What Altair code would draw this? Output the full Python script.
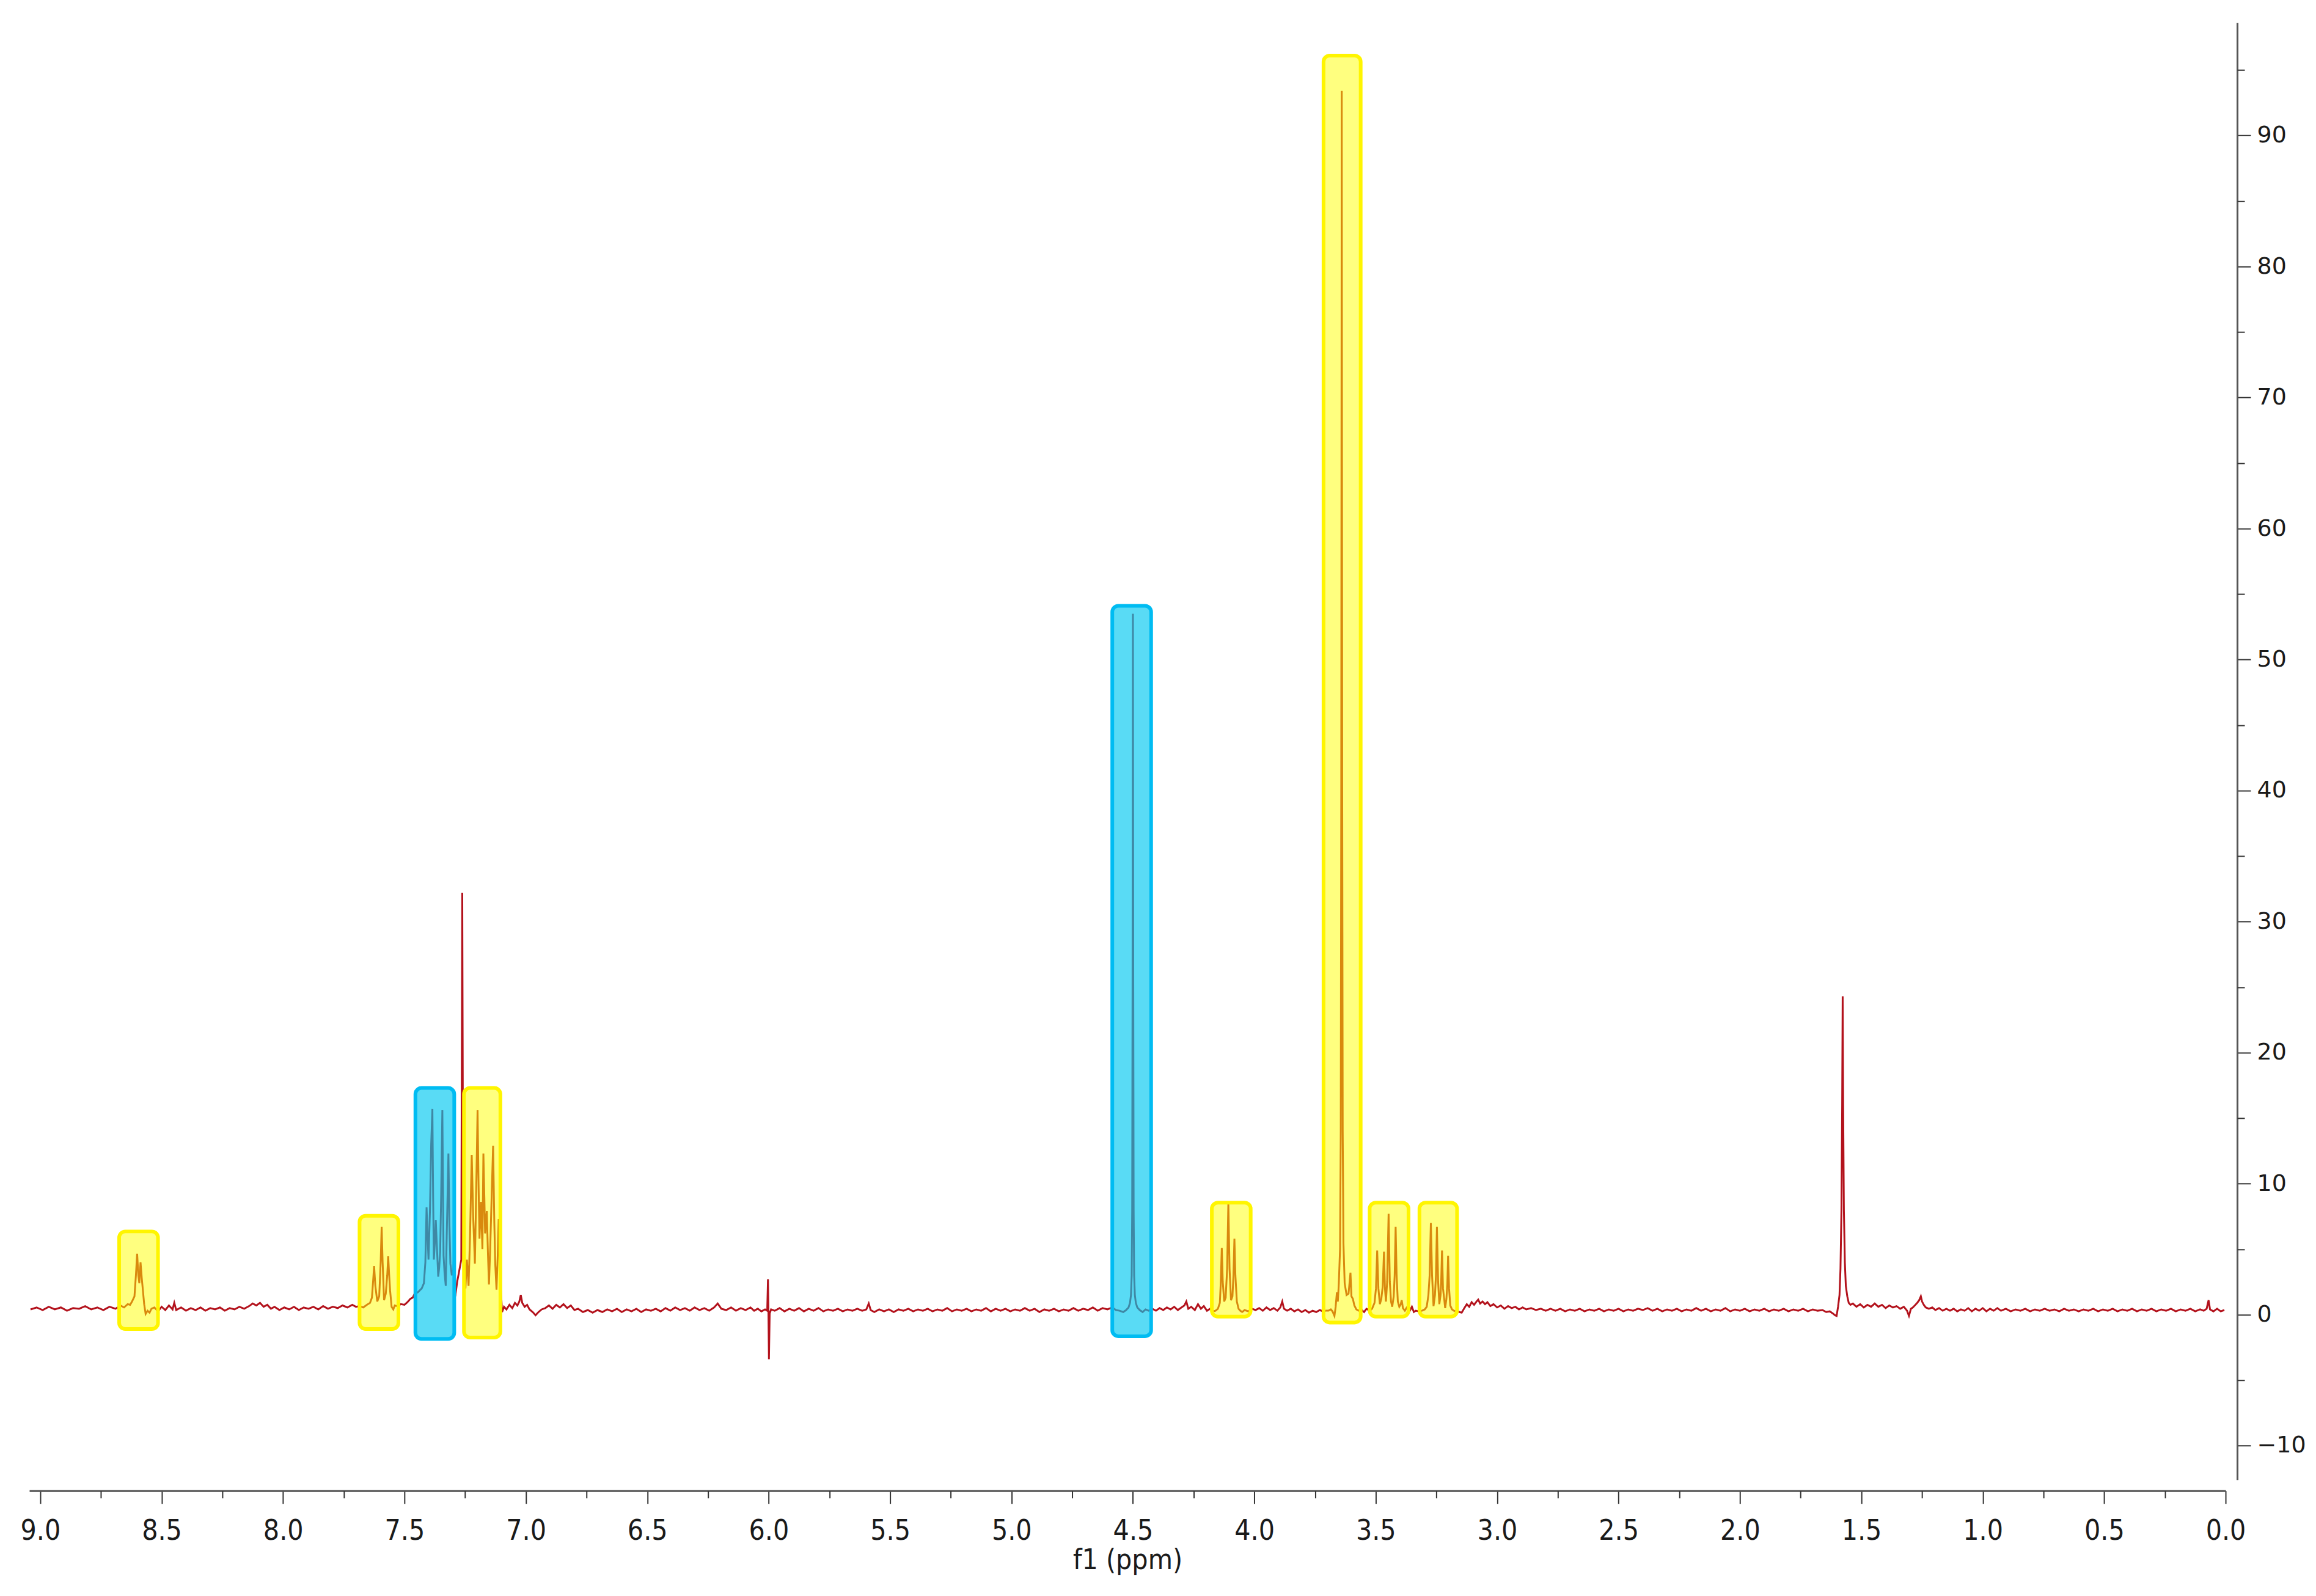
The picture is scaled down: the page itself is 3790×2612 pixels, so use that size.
import altair as alt
import pandas as pd

# ---------------- spectrum (ppm, intensity) ----------------
seg_a = [(9.040, 0.40), (9.015, 0.55), (8.990, 0.35), (8.965, 0.60), (8.940, 0.40), (8.915, 0.55),
         (8.890, 0.30), (8.865, 0.50), (8.840, 0.45), (8.815, 0.65), (8.790, 0.40), (8.765, 0.55),
         (8.740, 0.35), (8.715, 0.60), (8.690, 0.45), (8.670, 0.70)]
seg_b = [(8.655, 0.55), (8.640, 0.80), (8.630, 0.75), (8.622, 1.00), (8.612, 1.40), (8.606, 3.00),
         (8.601, 4.65), (8.596, 3.00), (8.592, 2.40), (8.587, 4.00), (8.582, 2.80), (8.577, 1.80),
         (8.572, 0.80), (8.566, 0.05), (8.558, 0.30), (8.550, 0.15), (8.542, 0.45)]
seg_c = [(8.530, 0.55), (8.515, 0.25), (8.500, 0.60), (8.485, 0.35), (8.470, 0.70), (8.455, 0.40),
         (8.448, 0.90), (8.440, 0.35), (8.420, 0.55), (8.400, 0.30), (8.380, 0.50), (8.360, 0.35),
         (8.340, 0.55), (8.320, 0.30), (8.300, 0.50), (8.280, 0.40), (8.260, 0.55), (8.240, 0.30),
         (8.220, 0.50), (8.200, 0.40), (8.180, 0.60), (8.160, 0.45), (8.140, 0.65), (8.125, 0.85),
         (8.110, 0.70), (8.095, 0.90), (8.080, 0.60), (8.065, 0.75), (8.050, 0.45), (8.035, 0.60),
         (8.015, 0.35), (7.995, 0.55), (7.975, 0.40), (7.955, 0.60), (7.935, 0.35), (7.915, 0.55),
         (7.895, 0.45), (7.875, 0.60), (7.855, 0.40), (7.835, 0.65), (7.815, 0.45), (7.795, 0.60),
         (7.775, 0.50), (7.755, 0.70), (7.735, 0.55), (7.715, 0.75), (7.700, 0.60)]
seg_d = [(7.685, 0.65), (7.670, 0.55), (7.655, 0.75), (7.642, 0.90), (7.634, 1.30), (7.629, 2.60),
         (7.625, 3.70), (7.620, 2.20), (7.612, 1.00), (7.604, 1.40), (7.598, 4.00), (7.594, 6.70),
         (7.590, 4.00), (7.584, 1.10), (7.577, 1.60), (7.571, 3.00), (7.567, 4.45), (7.563, 3.00),
         (7.559, 1.80), (7.553, 0.60), (7.546, 0.40), (7.540, 0.70)]
seg_e = [(7.530, 0.65), (7.515, 0.80), (7.500, 0.75), (7.488, 0.95), (7.476, 1.20), (7.466, 1.30),
         (7.458, 1.60), (7.445, 1.70), (7.429, 2.00), (7.420, 2.40), (7.414, 4.00), (7.409, 8.20),
         (7.405, 6.00), (7.401, 4.20), (7.395, 8.00), (7.390, 13.00), (7.385, 15.70), (7.382, 9.00),
         (7.379, 4.20), (7.375, 5.50), (7.371, 7.20), (7.366, 5.00), (7.361, 2.90), (7.357, 3.60),
         (7.353, 4.80), (7.349, 9.00), (7.344, 15.60), (7.341, 9.00), (7.339, 4.50), (7.335, 3.20),
         (7.330, 2.20), (7.326, 6.00), (7.322, 9.50), (7.319, 12.30), (7.315, 7.00), (7.311, 3.90),
         (7.305, 3.00), (7.299, 3.40), (7.294, 5.50), (7.291, 1.40), (7.283, 2.50), (7.273, 3.50),
         (7.266, 4.20), (7.262, 32.20), (7.258, 4.20), (7.253, 3.00), (7.249, 2.00), (7.243, 4.20),
         (7.236, 2.20), (7.230, 6.00), (7.223, 12.20), (7.217, 7.50), (7.210, 3.90), (7.205, 9.00),
         (7.199, 15.60), (7.195, 10.00), (7.191, 5.80), (7.185, 8.60), (7.179, 5.00), (7.175, 12.30),
         (7.171, 9.00), (7.168, 6.20), (7.161, 7.90), (7.156, 4.50), (7.152, 2.30), (7.147, 5.00),
         (7.141, 9.00), (7.135, 12.90), (7.130, 7.00), (7.126, 3.80), (7.121, 1.90), (7.116, 4.50),
         (7.112, 7.30), (7.106, 2.90), (7.098, 0.20), (7.090, 0.60)]
seg_f = [(7.080, 0.40), (7.068, 0.75), (7.056, 0.50), (7.045, 0.90), (7.035, 0.70), (7.027, 1.00),
         (7.021, 1.50), (7.015, 0.90), (7.005, 0.60), (6.995, 0.75), (6.985, 0.40), (6.972, 0.20),
         (6.960, -0.05), (6.948, 0.20), (6.935, 0.40), (6.920, 0.50), (6.905, 0.70), (6.890, 0.45),
         (6.875, 0.75), (6.860, 0.55), (6.845, 0.80), (6.830, 0.50), (6.815, 0.70), (6.800, 0.35),
         (6.785, 0.45), (6.765, 0.20), (6.745, 0.35), (6.725, 0.15), (6.705, 0.35), (6.685, 0.20),
         (6.665, 0.40), (6.645, 0.25), (6.625, 0.45), (6.605, 0.20), (6.585, 0.40), (6.565, 0.25),
         (6.545, 0.45), (6.525, 0.20), (6.505, 0.40), (6.485, 0.30), (6.465, 0.45), (6.445, 0.25),
         (6.425, 0.50), (6.405, 0.30), (6.385, 0.55), (6.365, 0.35), (6.345, 0.50), (6.325, 0.30),
         (6.305, 0.55), (6.285, 0.35), (6.265, 0.50), (6.245, 0.30), (6.225, 0.55), (6.210, 0.85),
         (6.195, 0.45), (6.175, 0.35), (6.155, 0.55), (6.135, 0.30), (6.115, 0.50), (6.095, 0.35),
         (6.075, 0.55), (6.060, 0.30), (6.045, 0.45), (6.030, 0.25)]
seg_g = [(6.015, 0.40), (6.006, 0.30), (6.003, 2.70), (6.001, 0.20), (5.999, -3.40), (5.996, 0.10),
         (5.990, 0.40)]
seg_h = [(5.975, 0.30), (5.955, 0.50), (5.935, 0.25), (5.915, 0.45), (5.895, 0.30), (5.875, 0.50),
         (5.855, 0.25), (5.835, 0.45), (5.815, 0.30), (5.795, 0.50), (5.775, 0.25), (5.755, 0.40),
         (5.735, 0.30), (5.715, 0.45), (5.695, 0.25), (5.675, 0.40), (5.655, 0.30), (5.635, 0.45),
         (5.615, 0.30), (5.598, 0.40), (5.588, 0.85), (5.580, 0.35), (5.565, 0.20), (5.545, 0.40),
         (5.525, 0.25), (5.505, 0.40), (5.485, 0.20), (5.465, 0.40), (5.445, 0.30), (5.425, 0.45),
         (5.405, 0.25), (5.385, 0.40), (5.365, 0.30), (5.345, 0.45), (5.325, 0.25), (5.305, 0.40),
         (5.285, 0.30), (5.265, 0.50), (5.245, 0.25), (5.225, 0.40), (5.205, 0.30), (5.185, 0.45),
         (5.165, 0.25), (5.145, 0.40), (5.125, 0.30), (5.105, 0.50), (5.085, 0.25), (5.065, 0.45),
         (5.045, 0.30), (5.025, 0.45), (5.005, 0.25), (4.985, 0.40), (4.965, 0.30), (4.945, 0.50),
         (4.925, 0.30), (4.905, 0.45), (4.885, 0.20), (4.865, 0.40), (4.845, 0.30), (4.825, 0.45),
         (4.805, 0.25), (4.785, 0.40), (4.765, 0.30), (4.745, 0.50), (4.725, 0.30), (4.705, 0.45),
         (4.685, 0.35), (4.665, 0.55), (4.645, 0.30), (4.625, 0.50), (4.605, 0.40), (4.585, 0.55),
         (4.570, 0.35)]
seg_i = [(4.555, 0.30), (4.540, 0.20), (4.528, 0.35), (4.518, 0.55), (4.512, 0.90), (4.508, 1.50),
         (4.505, 3.00), (4.503, 8.00), (4.5015, 25.0), (4.500, 53.50), (4.4985, 25.0), (4.497, 8.00),
         (4.495, 3.00), (4.492, 1.50), (4.488, 0.90), (4.482, 0.55), (4.472, 0.35), (4.460, 0.20),
         (4.448, 0.40)]
seg_j = [(4.435, 0.30), (4.420, 0.45), (4.405, 0.30), (4.390, 0.50), (4.375, 0.35), (4.360, 0.55),
         (4.345, 0.40), (4.330, 0.60), (4.315, 0.35), (4.300, 0.55), (4.288, 0.70), (4.280, 1.00),
         (4.272, 0.45), (4.260, 0.60), (4.245, 0.35), (4.232, 0.80), (4.220, 0.45), (4.208, 0.65),
         (4.195, 0.30), (4.182, 0.45)]
seg_k = [(4.170, 0.25), (4.160, 0.30), (4.150, 0.45), (4.142, 0.90), (4.138, 2.50), (4.134, 5.10),
         (4.130, 2.50), (4.124, 1.00), (4.118, 1.30), (4.112, 3.50), (4.107, 8.50), (4.102, 3.50),
         (4.096, 1.10), (4.090, 1.40), (4.086, 3.00), (4.082, 5.80), (4.078, 3.00), (4.072, 1.00),
         (4.065, 0.45), (4.058, 0.30), (4.050, 0.20)]
seg_l = [(4.040, 0.35), (4.025, 0.25), (4.010, 0.45), (3.995, 0.35), (3.980, 0.50), (3.965, 0.30),
         (3.950, 0.55), (3.935, 0.35), (3.920, 0.50), (3.905, 0.30), (3.893, 0.55), (3.885, 1.00),
         (3.878, 0.45), (3.865, 0.30), (3.850, 0.45), (3.835, 0.25), (3.820, 0.40), (3.805, 0.20),
         (3.790, 0.35), (3.775, 0.15), (3.760, 0.30), (3.745, 0.20), (3.730, 0.35), (3.718, 0.25),
         (3.705, 0.30)]
seg_m = [(3.695, 0.30), (3.685, 0.40), (3.678, 0.25), (3.670, -0.10), (3.665, 0.60), (3.660, 1.70),
         (3.656, 1.00), (3.652, 2.40), (3.647, 5.00), (3.644, 14.0), (3.642, 40.0), (3.640, 93.4),
         (3.638, 40.0), (3.636, 14.0), (3.633, 5.50), (3.628, 2.40), (3.620, 1.50), (3.612, 1.60),
         (3.607, 2.60), (3.604, 3.20), (3.600, 1.40), (3.594, 1.20), (3.588, 0.70), (3.580, 0.40),
         (3.570, 0.30)]
seg_n = [(3.560, 0.40), (3.548, 0.20), (3.538, 0.45), (3.525, 0.30), (3.515, 0.45), (3.505, 0.90),
         (3.499, 2.00), (3.494, 4.90), (3.489, 2.00), (3.483, 0.80), (3.477, 1.20), (3.471, 2.20),
         (3.466, 4.80), (3.462, 2.00), (3.458, 1.00), (3.453, 2.50), (3.447, 7.70), (3.442, 2.50),
         (3.437, 1.00), (3.432, 0.60), (3.426, 1.40), (3.422, 3.00), (3.418, 6.70), (3.414, 3.00),
         (3.409, 1.00), (3.403, 0.60), (3.397, 0.80), (3.393, 1.10), (3.388, 0.50), (3.380, 0.30),
         (3.372, 0.55)]
seg_o = [(3.365, 0.70), (3.358, 0.35), (3.351, 0.60), (3.343, 0.20), (3.335, 0.30), (3.322, 0.25),
         (3.310, 0.30), (3.298, 0.40), (3.290, 0.60), (3.283, 1.50), (3.278, 3.00), (3.273, 7.00),
         (3.268, 3.00), (3.262, 0.65), (3.256, 1.50), (3.252, 3.00), (3.248, 6.70), (3.243, 2.50),
         (3.238, 0.80), (3.233, 1.50), (3.230, 2.80), (3.227, 4.90), (3.223, 2.00), (3.218, 1.20),
         (3.214, 0.50), (3.209, 1.20), (3.205, 2.40), (3.202, 4.50), (3.198, 2.00), (3.193, 0.70),
         (3.186, 0.40), (3.178, 0.30)]
seg_p = [(3.165, 0.25), (3.155, 0.20), (3.146, 0.15), (3.135, 0.50), (3.125, 0.80), (3.115, 0.60),
         (3.105, 0.95), (3.095, 0.75), (3.085, 1.00), (3.078, 1.15), (3.070, 0.85), (3.060, 1.00),
         (3.050, 0.80), (3.040, 0.95), (3.028, 0.65), (3.015, 0.80), (3.000, 0.55), (2.985, 0.70),
         (2.970, 0.45), (2.955, 0.65), (2.940, 0.50), (2.925, 0.60), (2.910, 0.40), (2.895, 0.55),
         (2.880, 0.40), (2.860, 0.50), (2.840, 0.35), (2.820, 0.45), (2.800, 0.30), (2.780, 0.45),
         (2.760, 0.30), (2.740, 0.45), (2.720, 0.25), (2.700, 0.40), (2.680, 0.30), (2.660, 0.45),
         (2.640, 0.25), (2.620, 0.40), (2.600, 0.30), (2.580, 0.45), (2.560, 0.25), (2.540, 0.40),
         (2.520, 0.30), (2.500, 0.45), (2.480, 0.25), (2.460, 0.40), (2.440, 0.30), (2.420, 0.45),
         (2.400, 0.35), (2.380, 0.50), (2.360, 0.30), (2.340, 0.45), (2.320, 0.25), (2.300, 0.40),
         (2.280, 0.30), (2.260, 0.45), (2.240, 0.25), (2.220, 0.40), (2.200, 0.30), (2.180, 0.50),
         (2.160, 0.30), (2.140, 0.45), (2.120, 0.25), (2.100, 0.40), (2.080, 0.30), (2.060, 0.50),
         (2.040, 0.25), (2.020, 0.40), (2.000, 0.30), (1.980, 0.45), (1.960, 0.25), (1.940, 0.40),
         (1.920, 0.30), (1.900, 0.45), (1.880, 0.25), (1.860, 0.40), (1.840, 0.30), (1.820, 0.45),
         (1.800, 0.25), (1.780, 0.40), (1.760, 0.30), (1.740, 0.45), (1.720, 0.25), (1.700, 0.40),
         (1.680, 0.30), (1.660, 0.35), (1.645, 0.20), (1.630, 0.25)]
seg_q = [(1.618, 0.10), (1.608, -0.05), (1.602, -0.10), (1.596, 0.60), (1.590, 1.50), (1.586, 3.50),
         (1.582, 8.00), (1.579, 16.0), (1.577, 24.3), (1.575, 16.0), (1.572, 8.00), (1.568, 4.00),
         (1.564, 2.20), (1.558, 1.40), (1.552, 0.90), (1.545, 0.75)]
seg_r = [(1.535, 0.85), (1.520, 0.60), (1.505, 0.80), (1.490, 0.55), (1.475, 0.75), (1.460, 0.60),
         (1.445, 0.85), (1.430, 0.60), (1.415, 0.75), (1.400, 0.50), (1.385, 0.70), (1.370, 0.55),
         (1.355, 0.65), (1.340, 0.45), (1.325, 0.60), (1.312, 0.30), (1.304, -0.10), (1.296, 0.45),
         (1.288, 0.55), (1.280, 0.70), (1.270, 0.90), (1.262, 1.10), (1.255, 1.40), (1.250, 1.00),
         (1.243, 0.75), (1.235, 0.55), (1.222, 0.45), (1.208, 0.55), (1.195, 0.35), (1.180, 0.50),
         (1.165, 0.30), (1.150, 0.45), (1.135, 0.30), (1.120, 0.45), (1.105, 0.25), (1.090, 0.40),
         (1.075, 0.30), (1.060, 0.50), (1.045, 0.25), (1.030, 0.45), (1.015, 0.30), (1.000, 0.50),
         (0.985, 0.25), (0.970, 0.45), (0.955, 0.30), (0.940, 0.50), (0.925, 0.30), (0.905, 0.45),
         (0.885, 0.25), (0.865, 0.40), (0.845, 0.30), (0.825, 0.45), (0.805, 0.25), (0.785, 0.40),
         (0.765, 0.30), (0.745, 0.45), (0.725, 0.30), (0.705, 0.40), (0.685, 0.25), (0.665, 0.45),
         (0.645, 0.30), (0.625, 0.40), (0.605, 0.25), (0.585, 0.40), (0.565, 0.30), (0.545, 0.45),
         (0.525, 0.25), (0.505, 0.40), (0.485, 0.30), (0.465, 0.45), (0.445, 0.25), (0.425, 0.40),
         (0.405, 0.30), (0.385, 0.45), (0.365, 0.25), (0.345, 0.40), (0.325, 0.30), (0.305, 0.45),
         (0.285, 0.25), (0.265, 0.40), (0.245, 0.30), (0.225, 0.45), (0.205, 0.25), (0.185, 0.40),
         (0.165, 0.30), (0.145, 0.45), (0.125, 0.25), (0.105, 0.40), (0.090, 0.30), (0.078, 0.45),
         (0.070, 1.10), (0.064, 0.40), (0.050, 0.25), (0.035, 0.45), (0.020, 0.25), (0.005, 0.35)]

# ---------------- highlight boxes ----------------
box_left = [8.675, 7.685, 7.455, 7.255, 4.585, 4.175, 3.715, 3.525, 3.320]
box_right = [8.515, 7.525, 7.295, 7.105, 4.425, 4.015, 3.562, 3.365, 3.165]
box_bottom = [-1.1, -1.1, -1.85, -1.75, -1.65, -0.15, -0.6, -0.15, -0.15]
box_top = [6.35, 7.55, 17.3, 17.3, 54.1, 8.55, 96.1, 8.55, 8.55]
box_kind = ["yellow", "yellow", "blue", "yellow", "blue", "yellow", "yellow", "yellow", "yellow"]

# ---------------- ticks ----------------
x_major = [0.0, 0.5, 1.0, 1.5, 2.0, 2.5, 3.0, 3.5, 4.0, 4.5, 5.0, 5.5, 6.0, 6.5, 7.0, 7.5, 8.0, 8.5, 9.0]
x_minor = [0.25, 0.75, 1.25, 1.75, 2.25, 2.75, 3.25, 3.75, 4.25, 4.75, 5.25, 5.75, 6.25, 6.75, 7.25,
           7.75, 8.25, 8.75]
y_major = [-10, 0, 10, 20, 30, 40, 50, 60, 70, 80, 90]
y_minor = [-5, 5, 15, 25, 35, 45, 55, 65, 75, 85, 95]

segments = [seg_a, seg_b, seg_c, seg_d, seg_e, seg_f, seg_g, seg_h, seg_i, seg_j, seg_k, seg_l,
            seg_m, seg_n, seg_o, seg_p, seg_q, seg_r]
spec = pd.DataFrame([{"ppm": p, "intensity": v} for seg in segments for p, v in seg])
boxes_df = pd.DataFrame({"left": box_left, "right": box_right, "bottom": box_bottom,
                         "top": box_top, "kind": box_kind})

xscale = alt.Scale(domain=[0, 9.045], reverse=True, nice=False, zero=False)
yscale = alt.Scale(domain=[-12.6, 98.6], nice=False, zero=False)

XFONT = "DejaVu Sans Condensed"
YFONT = "DejaVu Sans"

x_axis = alt.Axis(orient="bottom", values=x_major, format=".1f", offset=18,
                  domainColor="#555555", domainWidth=3, tickColor="#333333", tickWidth=2,
                  tickSize=21, labelFont=XFONT, labelFontSize=46, labelColor="#1a1a1a",
                  labelPadding=23, labelOverlap=False, labelFlush=False, grid=False,
                  title="f1 (ppm)", titleFont=XFONT, titleFontSize=46, titleFontWeight="normal",
                  titleColor="#1a1a1a", titlePadding=3)
y_axis = alt.Axis(orient="right", values=y_major, offset=19, domainColor="#555555", domainWidth=3,
                  tickColor="#333333", tickWidth=2, tickSize=22, labelFont=YFONT, labelFontSize=38,
                  labelColor="#1a1a1a", labelPadding=10, labelOverlap=False, labelFlush=False,
                  grid=False, title=None)
x_minor_axis = alt.Axis(orient="bottom", values=x_minor, offset=18, domain=False, labels=False,
                        tickColor="#333333", tickWidth=2, tickSize=12, grid=False, title=None)
y_minor_axis = alt.Axis(orient="right", values=y_minor, offset=19, domain=False, labels=False,
                        tickColor="#333333", tickWidth=2, tickSize=12, grid=False, title=None)

line = alt.Chart(spec).mark_line(color="#B3121C", strokeWidth=3).encode(
    x=alt.X("ppm:Q", scale=xscale, axis=x_axis),
    y=alt.Y("intensity:Q", scale=yscale, axis=y_axis),
)

boxes = alt.Chart(boxes_df).mark_rect(cornerRadius=10, strokeWidth=6).encode(
    x=alt.X("left:Q", scale=xscale, axis=x_minor_axis),
    x2="right:Q",
    y=alt.Y("bottom:Q", scale=yscale, axis=y_minor_axis),
    y2="top:Q",
    fill=alt.Fill("kind:N", scale=alt.Scale(domain=["yellow", "blue"], range=["#FFFF00", "#00C8F0"]),
                  legend=None),
    stroke=alt.Stroke("kind:N", scale=alt.Scale(domain=["yellow", "blue"], range=["#FFF500", "#00BCF2"]),
                      legend=None),
    fillOpacity=alt.FillOpacity("kind:N", scale=alt.Scale(domain=["yellow", "blue"], range=[0.5, 0.65]),
                                legend=None),
)

chart = alt.layer(line, boxes).resolve_axis(x="independent", y="independent").properties(
    width=3595, height=2385,
    autosize=alt.AutoSizeParams(type="none"),
    padding={"left": 40, "top": 29, "right": 140, "bottom": 180},
).configure_view(stroke=None, fill="white")

chart.save("out.html", embed_options={"renderer": "svg", "actions": False})
